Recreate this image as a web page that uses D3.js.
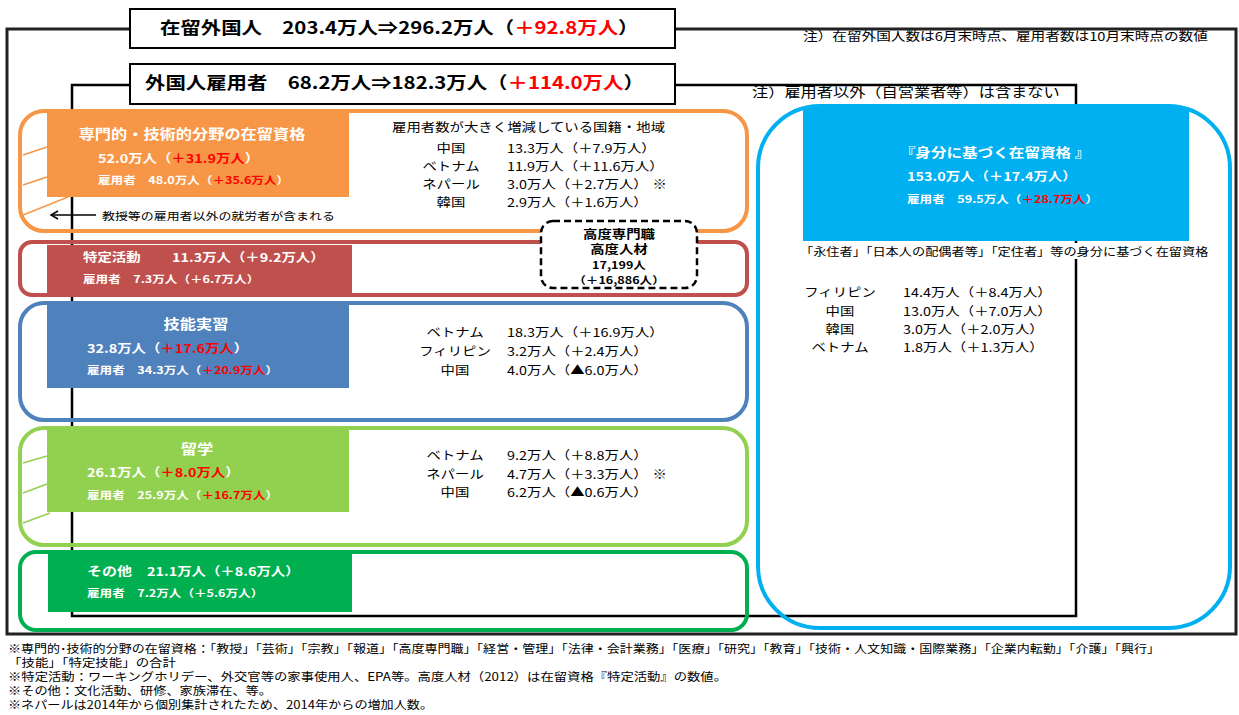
<!DOCTYPE html>
<html><head><meta charset="utf-8">
<script src="https://cdn.jsdelivr.net/npm/d3@7"></script>
<style>
body{margin:0;background:#fff;}
svg{display:block;font-family:"Noto Sans CJK JP","Noto Sans",sans-serif;}
</style>
</head><body>
<svg id="c" width="1239" height="715"></svg>
<script>
// ---------------- DATA ----------------
const headlineNames = ["在留外国人", "外国人雇用者"];
const headlineFrom = ["203.4", "68.2"];
const headlineTo = ["296.2", "182.3"];
const headlineDiff = ["＋92.8", "＋114.0"];

const notes = ["注）在留外国人数は6月末時点、雇用者数は10月末時点の数値", "注）雇用者以外（自営業者等）は含まない"];

const statusNames = ["専門的・技術的分野の在留資格", "特定活動", "技能実習", "留学", "その他"];
const statusResidents = ["52.0", "11.3", "32.8", "26.1", "21.1"];
const statusResidentsDiff = ["＋31.9", "＋9.2", "＋17.6", "＋8.0", "＋8.6"];
const statusEmployees = ["48.0", "7.3", "34.3", "25.9", "7.2"];
const statusEmployeesDiff = ["＋35.6", "＋6.7", "＋20.9", "＋16.7", "＋5.6"];
const statusHighlighted = [true, false, true, true, false];

const nationHeader = "雇用者数が大きく増減している国籍・地域";
const proNations = ["中国", "ベトナム", "ネパール", "韓国"];
const proValues = ["13.3", "11.9", "3.0", "2.9"];
const proDiff = ["＋7.9", "＋11.6", "＋2.7", "＋1.6"];
const proMark = ["", "", "※", ""];

const internNations = ["ベトナム", "フィリピン", "中国"];
const internValues = ["18.3", "3.2", "4.0"];
const internDiff = ["＋16.9", "＋2.4", "▲6.0"];
const internMark = ["", "", ""];

const studentNations = ["ベトナム", "ネパール", "中国"];
const studentValues = ["9.2", "4.7", "6.2"];
const studentDiff = ["＋8.8", "＋3.3", "▲0.6"];
const studentMark = ["", "※", ""];

const basedName = "『身分に基づく在留資格 』";
const basedResidents = "153.0", basedResidentsDiff = "＋17.4";
const basedEmployees = "59.5", basedEmployeesDiff = "＋28.7";
const basedDesc = "「永住者」「日本人の配偶者等」「定住者」等の身分に基づく在留資格";
const basedNations = ["フィリピン", "中国", "韓国", "ベトナム"];
const basedValues = ["14.4", "13.0", "3.0", "1.8"];
const basedDiff = ["＋8.4", "＋7.0", "＋2.0", "＋1.3"];

const highSkillLines = ["高度専門職", "高度人材", "17,199人", "（＋16,886人）"];
const arrowNote = "教授等の雇用者以外の就労者が含まれる";

const footnotes = [
  "※専門的･技術的分野の在留資格：「教授」「芸術」「宗教」「報道」「高度専門職」「経営・管理」「法律・会計業務」「医療」「研究」「教育」「技術・人文知識・国際業務」「企業内転勤」「介護」「興行」",
  "「技能」「特定技能」の合計",
  "※特定活動：ワーキングホリデー、外交官等の家事使用人、EPA等。高度人材（2012）は在留資格『特定活動』の数値。",
  "※その他：文化活動、研修、家族滞在、等。",
  "※ネパールは2014年から個別集計されたため、2014年からの増加人数。"
];

// ---------------- DRAWING ----------------
const svg = d3.select("#c");
const SX = 1.2;
const RED = "#FF0000";

function txt(parent, x, y, parts, o = {}) {
  const t = parent.append("text")
    .attr("transform", `translate(${x},${y}) scale(${o.sx ?? SX},1)`)
    .attr("dominant-baseline", "central")
    .attr("font-size", o.size || 12)
    .attr("font-weight", o.bold ? "bold" : "normal")
    .attr("fill", o.fill || "#000")
    .attr("text-anchor", o.anchor || "start");
  parts.forEach(p => {
    if (typeof p === "string") t.append("tspan").text(p);
    else {
      const s = t.append("tspan").text(p.t);
      if (p.c) s.attr("fill", p.c);
      if (p.dx) s.attr("dx", p.dx);
    }
  });
  return t;
}

// outer frame
svg.append("path").attr("d", "M130,29 H7 V634 H1236 V29 H675")
  .attr("fill", "none").attr("stroke", "#222").attr("stroke-width", 3);
// inner frame
svg.append("path").attr("d", "M130,85 H72 V616 H1076 V85 H675")
  .attr("fill", "none").attr("stroke", "#000").attr("stroke-width", 2.5);

const catLayout = [
  {color:"#F79646", top:111, bottom:231, r:24, fx0:47, fy0:112, fx1:349, fy1:197, nameX:192, nameY:133, anchor:"middle", nameSize:13.5, valX:98, valY:158, empX:98, empY:179},
  {color:"#C0504D", top:242, bottom:295, r:12, fx0:47, fy0:245, fx1:352, fy1:293, nameX:83, nameY:257, anchor:"start", nameSize:12, valX:172, valY:257, empX:83, empY:278},
  {color:"#4F81BD", top:303, bottom:420, r:24, fx0:47, fy0:305, fx1:349, fy1:388, nameX:196, nameY:323, anchor:"middle", nameSize:13.5, valX:87, valY:348, empX:87, empY:369},
  {color:"#92D050", top:428, bottom:545, r:24, fx0:47, fy0:430, fx1:349, fy1:512, nameX:197, nameY:448, anchor:"middle", nameSize:13.5, valX:87, valY:472, empX:87, empY:494},
  {color:"#00B050", top:552, bottom:630, r:16, fx0:48, fy0:553, fx1:352, fy1:612, nameX:87, nameY:571, anchor:"start", nameSize:12.5, valX:147, valY:571, empX:87, empY:592}
];

const cats = statusNames.map((n, i) => ({
  name: n, res: statusResidents[i], resD: statusResidentsDiff[i],
  emp: statusEmployees[i], empD: statusEmployeesDiff[i], hi: statusHighlighted[i], L: catLayout[i]
}));

// outlines
svg.selectAll("rect.outline").data(cats).join("rect").attr("class", "outline")
  .attr("x", 20).attr("y", d => d.L.top).attr("width", 727).attr("height", d => d.L.bottom - d.L.top)
  .attr("rx", d => d.L.r).attr("fill", "none").attr("stroke", d => d.L.color).attr("stroke-width", 4);

// hatching
const hatch = [
  [[23,155,47,147],[23,185,47,177],[23,215,68,197]],
  [],[],
  [[23,463,47,456],[23,493,47,484],[23,523,50,513]],
  []
];
hatch.forEach((ls, i) => ls.forEach(l => {
  svg.append("line").attr("x1", l[0]).attr("y1", l[1]).attr("x2", l[2]).attr("y2", l[3])
    .attr("stroke", catLayout[i].color).attr("stroke-width", 1.5);
}));

// arrow
svg.append("line").attr("x1", 51).attr("y1", 215).attr("x2", 96).attr("y2", 215)
  .attr("stroke", "#000").attr("stroke-width", 1.5);
svg.append("path").attr("d", "M58,211 L51,215 L58,219")
  .attr("fill", "none").attr("stroke", "#000").attr("stroke-width", 1.5);
txt(svg, 102, 215, [arrowNote], {size: 10.8});

// fills
svg.selectAll("rect.fill").data(cats).join("rect").attr("class", "fill")
  .attr("x", d => d.L.fx0).attr("y", d => d.L.fy0)
  .attr("width", d => d.L.fx1 - d.L.fx0).attr("height", d => d.L.fy1 - d.L.fy0)
  .attr("fill", d => d.L.color);

cats.forEach(d => {
  const L = d.L;
  txt(svg, L.nameX, L.nameY, [d.name], {size: L.nameSize, bold: true, fill: "#fff", anchor: L.anchor});
  txt(svg, L.valX, L.valY, [d.res + "万人（", {t: d.resD + "万人", c: d.hi ? RED : null}, "）"], {size: 12, bold: true, fill: "#fff"});
  txt(svg, L.empX, L.empY, ["雇用者　" + d.emp + "万人（", {t: d.empD + "万人", c: d.hi ? RED : null}, "）"], {size: 10.5, bold: true, fill: "#fff"});
});

// nation lists
function nationList(names, vals, diffs, marks, y0, y1, labelX, valX) {
  const y = d3.scalePoint().domain(d3.range(names.length)).range([y0, y1]);
  names.forEach((n, i) => {
    txt(svg, labelX, y(i), [n], {size: 12, anchor: "middle"});
    const parts = [vals[i] + "万人（" + diffs[i] + "万人）"];
    if (marks[i]) parts.push({t: marks[i], dx: 4});
    txt(svg, valX, y(i), parts, {size: 12});
  });
}
txt(svg, 392, 127, [nationHeader], {size: 12});
nationList(proNations, proValues, proDiff, proMark, 148, 202, 451, 507);
nationList(internNations, internValues, internDiff, internMark, 332, 370, 455, 507);
nationList(studentNations, studentValues, studentDiff, studentMark, 455, 492, 455, 507);

// high-skill dashed box
svg.append("rect").attr("x", 541).attr("y", 221).attr("width", 156).attr("height", 67).attr("rx", 12)
  .attr("fill", "#fff").attr("stroke", "#000").attr("stroke-width", 2.5).attr("stroke-dasharray", "7,4");
const hsY = d3.scalePoint().domain(d3.range(highSkillLines.length)).range([234, 279]);
highSkillLines.forEach((l, i) => txt(svg, 619, hsY(i), [l], {size: i < 2 ? 12 : 10.5, bold: true, anchor: "middle"}));

// status-based big box
svg.append("rect").attr("x", 758).attr("y", 106).attr("width", 472).attr("height", 522).attr("rx", 62)
  .attr("fill", "none").attr("stroke", "#00B0F0").attr("stroke-width", 4);
svg.append("rect").attr("x", 803).attr("y", 107).attr("width", 386).attr("height", 134).attr("fill", "#00B0F0");
txt(svg, 995, 151, [basedName], {size: 13, bold: true, fill: "#fff", anchor: "middle"});
txt(svg, 907, 176, [basedResidents + "万人（" + basedResidentsDiff + "万人）"], {size: 12, bold: true, fill: "#fff"});
txt(svg, 907, 198, ["雇用者　" + basedEmployees + "万人（", {t: basedEmployeesDiff + "万人", c: RED}, "）"], {size: 10.5, bold: true, fill: "#fff"});
svg.append("rect").attr("x", 1066).attr("y", 243).attr("width", 20).attr("height", 16).attr("fill", "#fff");
txt(svg, 800, 251, [basedDesc], {size: 11});
nationList(basedNations, basedValues, basedDiff, ["", "", "", ""], 292, 347, 840, 903);

// title boxes
[[9, 39], [64, 40]].forEach((b, i) => {
  svg.append("rect").attr("x", 130).attr("y", b[0]).attr("width", 545).attr("height", b[1])
    .attr("fill", "#fff").attr("stroke", "#000").attr("stroke-width", 2);
});
const titleX = [160, 145], titleY = [26, 81];
headlineNames.forEach((n, i) => {
  txt(svg, titleX[i], titleY[i], [n + "　" + headlineFrom[i] + "万人⇒" + headlineTo[i] + "万人（", {t: headlineDiff[i] + "万人", c: RED}, "）"], {size: 17, bold: true});
});

// notes
txt(svg, 803, 36, [notes[0]], {size: 12.2});
txt(svg, 752, 91, [notes[1]], {size: 13.5});

// footnotes
const fnY = d3.scalePoint().domain(d3.range(footnotes.length)).range([648, 704]);
const fnLen = [1152, 168, 719, 264, 425];
footnotes.forEach((f, i) => {
  svg.append("text").attr("x", 8).attr("y", fnY(i)).attr("dominant-baseline", "central")
    .attr("font-size", 11.5).attr("textLength", fnLen[i]).attr("lengthAdjust", "spacingAndGlyphs")
    .text(f);
});
</script>
</body></html>
